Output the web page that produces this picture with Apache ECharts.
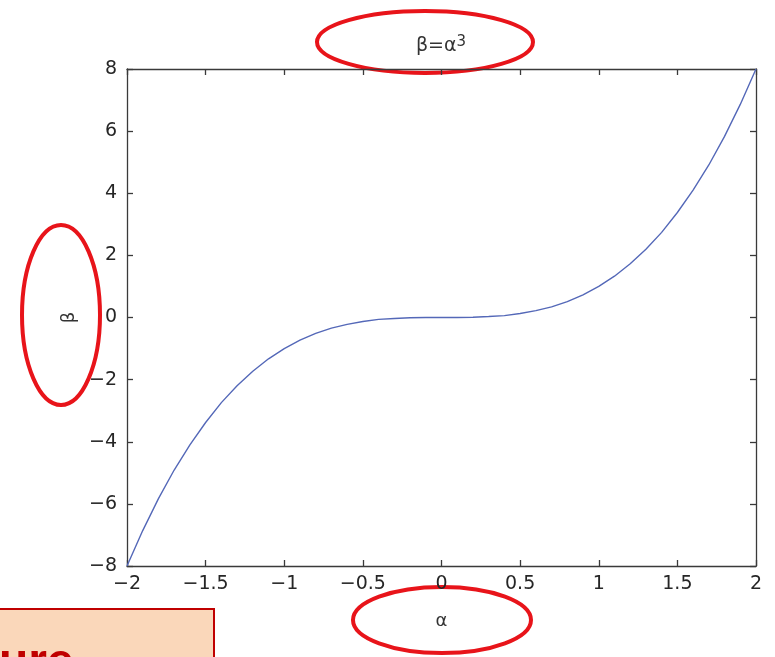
<!DOCTYPE html>
<html><head><meta charset="utf-8">
<script src="https://cdn.jsdelivr.net/npm/echarts@6/dist/echarts.min.js"></script>
<style>html,body{margin:0;padding:0;background:#fff;}#c{width:775px;height:657px;}</style>
</head><body><div id="c"></div>
<script>
const alphaValues = [-2,-1.9,-1.8,-1.7,-1.6,-1.5,-1.4,-1.3,-1.2,-1.1,-1,-0.9,-0.8,-0.7,-0.6,-0.5,-0.4,-0.3,-0.2,-0.1,0,0.1,0.2,0.3,0.4,0.5,0.6,0.7,0.8,0.9,1,1.1,1.2,1.3,1.4,1.5,1.6,1.7,1.8,1.9,2];
const betaValues = [-8,-6.86,-5.83,-4.91,-4.1,-3.38,-2.74,-2.2,-1.73,-1.33,-1,-0.73,-0.51,-0.34,-0.22,-0.13,-0.06,-0.03,-0.01,0,0,0,0.01,0.03,0.06,0.13,0.22,0.34,0.51,0.73,1,1.33,1.73,2.2,2.74,3.38,4.1,4.91,5.83,6.86,8];
const xTicks = {min:-2, max:2, step:0.5};
const yTicks = {min:-8, max:8, step:2};
const titleBase = 'β=α';
const titleSup = '3';
const xName = 'α';
const yName = 'β';
const boxText = 'ure';

const fmt = v => (v < 0 ? '\u2212' + Math.abs(v) : String(v));
const chart = echarts.init(document.getElementById('c'), null, {renderer:'canvas'});
const axisCol = '#3a3a3a';
const FONT = 'DejaVu Sans, sans-serif';
const labelStyle = {color:'#262626', fontSize:19, fontFamily:FONT};
const mkAxis = () => ({
  axisLine:{show:true, onZero:false, lineStyle:{color:axisCol, width:1.3}},
  axisTick:{show:true, inside:true, length:6, lineStyle:{color:axisCol, width:1.3}},
  splitLine:{show:false}
});
chart.setOption({
  animation:false,
  grid:{left:127, right:19, top:69, bottom:91},
  xAxis:[
    Object.assign({type:'value', min:xTicks.min, max:xTicks.max, interval:xTicks.step, position:'bottom',
      axisLabel:Object.assign({margin:9, formatter:fmt}, labelStyle),
      name:xName, nameLocation:'middle', nameGap:46,
      nameTextStyle:{color:'#333', fontSize:18, fontFamily:FONT}}, mkAxis()),
    Object.assign({type:'value', min:xTicks.min, max:xTicks.max, interval:xTicks.step, position:'top',
      axisLabel:{show:false}}, mkAxis())
  ],
  yAxis:[
    Object.assign({type:'value', min:yTicks.min, max:yTicks.max, interval:yTicks.step, position:'left',
      axisLabel:Object.assign({margin:10, formatter:fmt}, labelStyle),
      name:yName, nameLocation:'middle', nameGap:46, nameRotate:90,
      nameTextStyle:{color:'#333', fontSize:18, fontFamily:FONT}}, mkAxis()),
    Object.assign({type:'value', min:yTicks.min, max:yTicks.max, interval:yTicks.step, position:'right',
      axisLabel:{show:false}}, mkAxis())
  ],
  series:[{
    type:'line', showSymbol:false, smooth:false,
    data: alphaValues.map((a,i)=>[a, betaValues[i]]),
    lineStyle:{color:'#5468b8', width:1.4}
  }],
  graphic:[
    {type:'text', x:441, y:46, style:{text:'{b|' + titleBase + '}{s|' + titleSup + '}', align:'center', verticalAlign:'middle',
      rich:{b:{fill:'#333', fontSize:19, fontFamily:FONT, color:'#333'}, s:{fill:'#333', color:'#333', fontSize:15, fontFamily:FONT, verticalAlign:'top', padding:[0,0,8,0]}}}},
    {type:'ellipse', shape:{cx:425, cy:42, rx:108, ry:31}, style:{fill:'none', stroke:'#e8141a', lineWidth:4}},
    {type:'ellipse', shape:{cx:61, cy:315, rx:39, ry:90}, style:{fill:'none', stroke:'#e8141a', lineWidth:4}},
    {type:'ellipse', shape:{cx:442, cy:620, rx:89, ry:33}, style:{fill:'none', stroke:'#e8141a', lineWidth:4}},
    {type:'rect', shape:{x:-5, y:609, width:219, height:60}, style:{fill:'#fad7ba', stroke:'#c00000', lineWidth:2}},
    {type:'text', x:-1, y:640, style:{text:boxText, fill:'#c00000', font:'bold 48px Liberation Sans, Arial, sans-serif', verticalAlign:'top'}}
  ]
});
</script></body></html>
